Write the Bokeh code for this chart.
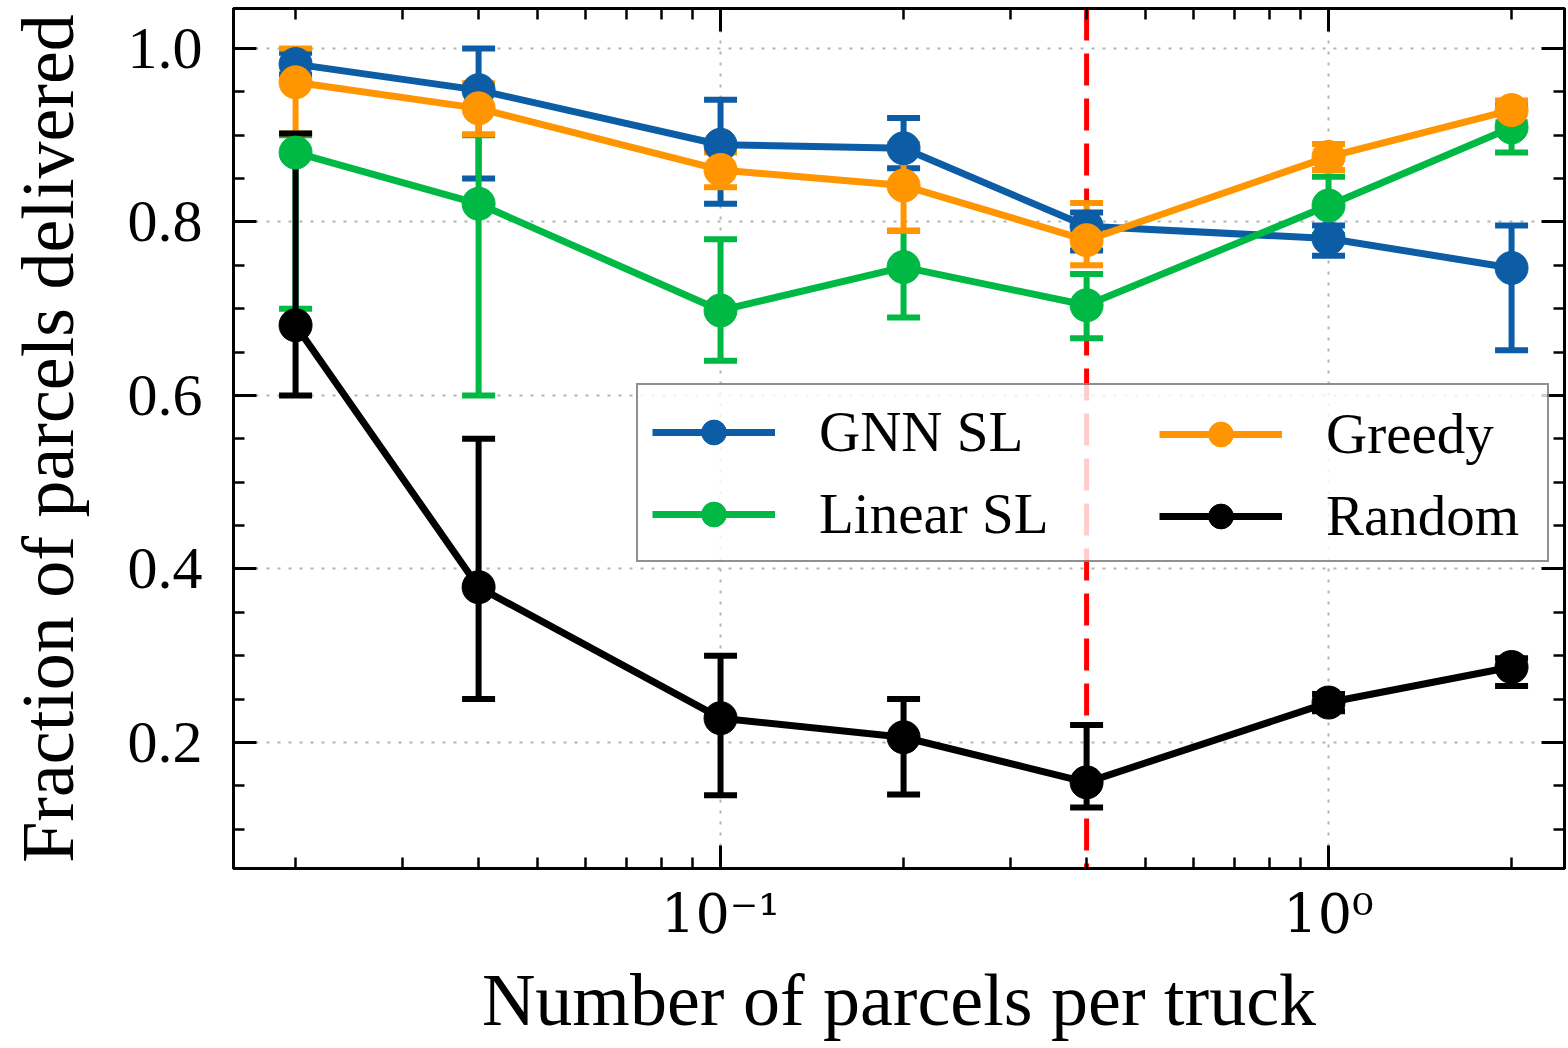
from bokeh.plotting import figure
from bokeh.models import (ColumnDataSource, Whisker, TeeHead, Span, Legend, LegendItem,
                          FixedTicker, LinearAxis, LogAxis, PrintfTickFormatter, Range1d,
                          CustomJSTickFormatter)
from bokeh.embed import file_html
from bokeh.resources import INLINE

# ---------------- data ----------------
parcels_per_truck = [0.02, 0.04, 0.1, 0.2, 0.4, 1.0, 2.0]

gnn_mean = [0.982, 0.952, 0.889, 0.885, 0.795, 0.781, 0.747]
gnn_lower = [0.970, 0.850, 0.821, 0.862, 0.767, 0.761, 0.652]
gnn_upper = [0.995, 1.000, 0.941, 0.920, 0.811, 0.796, 0.796]

linear_mean = [0.880, 0.821, 0.698, 0.748, 0.704, 0.819, 0.909]
linear_lower = [0.700, 0.600, 0.640, 0.690, 0.666, 0.785, 0.880]
linear_upper = [0.900, 0.900, 0.780, 0.790, 0.740, 0.852, 0.935]

greedy_mean = [0.961, 0.931, 0.860, 0.842, 0.779, 0.875, 0.929]
greedy_lower = [0.902, 0.901, 0.840, 0.790, 0.750, 0.860, 0.915]
greedy_upper = [1.000, 0.960, 0.880, 0.890, 0.822, 0.890, 0.940]

random_mean = [0.681, 0.379, 0.228, 0.206, 0.154, 0.246, 0.287]
random_lower = [0.600, 0.250, 0.139, 0.140, 0.125, 0.236, 0.265]
random_upper = [0.902, 0.550, 0.300, 0.250, 0.220, 0.256, 0.297]

series_names = ["GNN SL", "Linear SL", "Greedy", "Random"]
series_colors = ["#0C5DA5", "#00B945", "#FF9500", "#000000"]

threshold_x = 0.4

x_major_ticks = [0.1, 1.0]
x_major_labels = ["10\u207b\u00b9", "10\u2070"]
x_minor_ticks = [0.02, 0.03, 0.04, 0.05, 0.06, 0.07, 0.08, 0.09,
                 0.2, 0.3, 0.4, 0.5, 0.6, 0.7, 0.8, 0.9, 2.0]
y_major_ticks = [0.2, 0.4, 0.6, 0.8, 1.0]
y_minor_ticks = [0.1, 0.15, 0.25, 0.3, 0.35, 0.45, 0.5, 0.55, 0.65, 0.7, 0.75,
                 0.85, 0.9, 0.95]

x_label = "Number of parcels per truck"
y_label = "Fraction of parcels delivered"

# ---------------- figure ----------------
p = figure(width=1566, height=1048, x_axis_type="log",
           x_range=Range1d(0.01581, 2.444), y_range=Range1d(0.0547, 1.0461),
           output_backend="svg", toolbar_location=None,
           min_border_left=233, min_border_right=2, min_border_top=8, min_border_bottom=180)
p.background_fill_color = "white"
p.border_fill_color = "white"
p.outline_line_color = "black"
p.outline_line_width = 3

x_ticker = FixedTicker(ticks=x_major_ticks, minor_ticks=x_minor_ticks)
y_ticker = FixedTicker(ticks=y_major_ticks, minor_ticks=y_minor_ticks)

xa = p.below[0]
ya = p.left[0]
xa.ticker = x_ticker
ya.ticker = y_ticker
xa.formatter = CustomJSTickFormatter(
    args=dict(vals=x_major_ticks, labs=x_major_labels),
    code="""
    for (let i = 0; i < vals.length; i++) {
        if (Math.abs(Math.log10(tick) - Math.log10(vals[i])) < 1e-6) { return labs[i]; }
    }
    return "";
    """)
ya.formatter = PrintfTickFormatter(format="%.1f")
xa.axis_label = x_label
ya.axis_label = y_label

blank = CustomJSTickFormatter(code="return '';")
top_axis = LogAxis(ticker=x_ticker, formatter=blank, major_label_standoff=0,
                   major_label_text_font_size="8px")
right_axis = LinearAxis(ticker=y_ticker, formatter=blank, major_label_standoff=0,
                        major_label_text_font_size="8px")
p.add_layout(top_axis, "above")
p.add_layout(right_axis, "right")

for ax in [xa, ya, top_axis, right_axis]:
    ax.axis_line_width = 3
    ax.axis_line_color = "black"
    ax.major_tick_in = 23
    ax.major_tick_out = 0
    ax.minor_tick_in = 11
    ax.minor_tick_out = 0
    ax.major_tick_line_width = 3
    ax.minor_tick_line_width = 2.5
    ax.major_tick_line_color = "black"
    ax.minor_tick_line_color = "black"

for ax in [xa, ya]:
    ax.major_label_text_font = "Liberation Serif"
    ax.major_label_text_font_size = "60px"
    ax.major_label_text_color = "black"
    ax.axis_label_text_font = "Liberation Serif"
    ax.axis_label_text_font_size = "74px"
    ax.axis_label_text_font_style = "normal"
    ax.axis_label_text_color = "black"
xa.major_label_text_font = "DejaVu Serif"
xa.major_label_text_font_size = "54px"
xa.major_label_standoff = 14
xa.axis_label_standoff = 10
ya.major_label_standoff = 31
ya.axis_label_standoff = 36

p.xgrid.ticker = x_ticker
p.ygrid.ticker = y_ticker
for g in [p.xgrid, p.ygrid]:
    g.grid_line_color = "#b4b4b4"
    g.grid_line_dash = "3 8"
    g.grid_line_width = 2

span = Span(location=threshold_x, dimension="height", line_color="#ff0000",
            line_dash="32 13", line_width=5, level="underlay")
p.add_layout(span)

means = [gnn_mean, linear_mean, greedy_mean, random_mean]
lowers = [gnn_lower, linear_lower, greedy_lower, random_lower]
uppers = [gnn_upper, linear_upper, greedy_upper, random_upper]

sources = []
for color, m, lo, hi in zip(series_colors, means, lowers, uppers):
    src = ColumnDataSource(dict(x=parcels_per_truck, y=m, lower=lo, upper=hi))
    sources.append(src)
    w = Whisker(source=src, base="x", lower="lower", upper="upper", dimension="height",
                line_color=color, line_width=6, level="underlay",
                upper_head=TeeHead(size=33, line_color=color, line_width=6),
                lower_head=TeeHead(size=33, line_color=color, line_width=6))
    p.add_layout(w)

items = []
for name, color, src in zip(series_names, series_colors, sources):
    rl = p.line("x", "y", source=src, line_color=color, line_width=7)
    rs = p.scatter("x", "y", source=src, marker="circle", size=33,
                   fill_color=color, line_color=color)
    items.append(LegendItem(label=name, renderers=[rl, rs]))

common = dict(label_text_font="Liberation Serif", label_text_font_size="57px",
              label_text_color="black", label_standoff=44, glyph_width=123,
              glyph_height=62, label_height=62, spacing=17, padding=14, margin=0,
              orientation="vertical")
legend1 = Legend(items=[items[0], items[1]], location=(403, 306), label_width=714,
                 border_line_color="#222222", border_line_width=2.5,
                 background_fill_color="white", background_fill_alpha=0.8, **common)
legend2 = Legend(items=[items[2], items[3]], location=(912, 306),
                 border_line_alpha=0, background_fill_alpha=0, **common)
p.add_layout(legend1)
p.add_layout(legend2)

open("out.html", "w").write(file_html(p, INLINE))
